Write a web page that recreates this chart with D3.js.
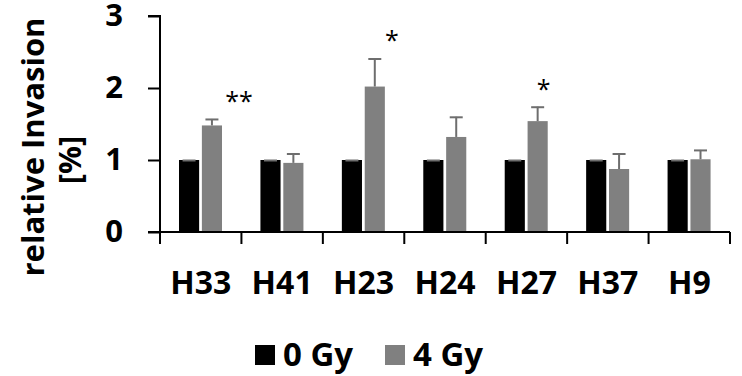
<!DOCTYPE html>
<html>
<head>
<meta charset="utf-8">
<script src="https://cdn.jsdelivr.net/npm/d3@7"></script>
<style>
  body { margin: 0; background: #fff; }
  text { font-family: "Open Sans", sans-serif; }
</style>
</head>
<body>
<svg id="chart" width="742" height="376"></svg>
<script>
// Data
const categories = ["H33", "H41", "H23", "H24", "H27", "H37", "H9"];
const seriesNames = ["0 Gy", "4 Gy"];
const values0Gy = [1, 1, 1, 1, 1, 1, 1];
const values4Gy = [1.48, 0.96, 2.02, 1.32, 1.54, 0.875, 1.01];
const errors0Gy = [0, 0, 0, 0, 0, 0, 0];
const errors4Gy = [0.09, 0.13, 0.39, 0.28, 0.2, 0.215, 0.13];
const sigLabels = [
  { cat: "H33", text: "**", dx: 27 },
  { cat: "H23", text: "*", dx: 17 },
  { cat: "H27", text: "*", dx: 6 }
];
const yTicks = [0, 1, 2, 3];

const svg = d3.select("#chart");
const colors = { "0 Gy": "#000000", "4 Gy": "#808080" };

// Settings
const margin = { top: 16, bottom: 144, left: 160, right: 12 };
const width = +svg.attr("width");
const height = +svg.attr("height");

const xScale = d3.scaleBand()
  .domain(categories)
  .range([margin.left, width - margin.right])
  .paddingInner(0)
  .paddingOuter(0);

const xSub = d3.scaleBand()
  .domain(seriesNames)
  .range([19, 62])
  .paddingInner(0.12);

const yScale = d3.scaleLinear()
  .domain([0, 3])
  .range([height - margin.bottom, margin.top]);

const rows = categories.map((c, i) => ({
  cat: c,
  vals: [
    { s: "0 Gy", v: values0Gy[i], e: errors0Gy[i] },
    { s: "4 Gy", v: values4Gy[i], e: errors4Gy[i] }
  ]
}));

// Bars
const groups = svg.append("g").selectAll("g")
  .data(rows)
  .join("g")
  .attr("transform", d => `translate(${xScale(d.cat)},0)`);

groups.selectAll("rect")
  .data(d => d.vals)
  .join("rect")
  .attr("x", d => xSub(d.s))
  .attr("width", xSub.bandwidth())
  .attr("y", d => yScale(d.v))
  .attr("height", d => yScale(0) - yScale(d.v))
  .attr("fill", d => colors[d.s]);

// Error bars (upper only)
const capHalf = 6.5;
const cx = d => xSub(d.s) + xSub.bandwidth() / 2;
const err = groups.selectAll("g.err")
  .data(d => d.vals)
  .join("g")
  .attr("class", "err")
  .attr("stroke", "#6e6e6e")
  .attr("stroke-width", 2);
err.append("line")
  .attr("x1", cx).attr("x2", cx)
  .attr("y1", d => yScale(d.v))
  .attr("y2", d => yScale(d.v + d.e));
err.append("line")
  .attr("x1", d => cx(d) - capHalf)
  .attr("x2", d => cx(d) + capHalf)
  .attr("y1", d => yScale(d.v + d.e) + 0.5)
  .attr("y2", d => yScale(d.v + d.e) + 0.5);

// Significance marks
svg.append("g").selectAll("text")
  .data(sigLabels)
  .join("text")
  .attr("x", d => xScale(d.cat) + xSub("4 Gy") + xSub.bandwidth() / 2 + d.dx)
  .attr("y", d => {
    const i = categories.indexOf(d.cat);
    return yScale(values4Gy[i] + errors4Gy[i]) - 9;
  })
  .attr("text-anchor", "middle")
  .attr("font-size", 25)
  .attr("fill", "#000")
  .text(d => d.text);

// y-Axis
const yAxis = d3.axisLeft(yScale).tickValues(yTicks).tickSize(12).tickPadding(25).tickFormat(d3.format("d"));
const yAxisG = svg.append("g")
  .attr("transform", `translate(${margin.left},0)`)
  .call(yAxis);
yAxisG.select(".domain").attr("d", `M-12,${yScale(3)}H0V${yScale(0) + 12}`);
yAxisG.selectAll("line, path").attr("stroke", "#000").attr("stroke-width", 2);
yAxisG.selectAll("text")
  .attr("font-size", 31)
  .attr("font-weight", "bold")
  .attr("font-family", "Open Sans, sans-serif")
  .attr("fill", "#000");

// x-Axis
const xAxis = d3.axisBottom(xScale).tickSize(0).tickPadding(39);
const xAxisG = svg.append("g")
  .attr("transform", `translate(0,${yScale(0)})`)
  .call(xAxis);
xAxisG.select(".domain")
  .attr("d", `M${margin.left - 12},0H${width - margin.right}`)
  .attr("stroke", "#000")
  .attr("stroke-width", 2);
xAxisG.selectAll("text")
  .attr("font-size", 32)
  .attr("font-weight", "bold")
  .attr("font-family", "Open Sans, sans-serif")
  .attr("fill", "#000")
  .attr("dy", "0.71em");
// category separators
const edges = categories.map(c => xScale(c)).concat([xScale.range()[1]]);
xAxisG.append("g").selectAll("line")
  .data(edges)
  .join("line")
  .attr("x1", d => d).attr("x2", d => d)
  .attr("y1", 0).attr("y2", 12)
  .attr("stroke", "#000")
  .attr("stroke-width", 2);

// y-Axis title
const titleG = svg.append("g").attr("font-weight", "bold").attr("fill", "#000").attr("font-size", 31);
titleG.append("text")
  .attr("transform", `translate(44,147) rotate(-90)`)
  .attr("text-anchor", "middle")
  .text("relative Invasion");
titleG.append("text")
  .attr("transform", `translate(81,160) rotate(-90)`)
  .attr("text-anchor", "middle")
  .text("[%]");

// Legend
const legendX = [255, 385];
const legend = svg.append("g").selectAll("g")
  .data(seriesNames)
  .join("g")
  .attr("transform", (d, i) => `translate(${legendX[i]},345)`);
legend.append("rect")
  .attr("width", 20).attr("height", 20)
  .attr("fill", d => colors[d]);
legend.append("text")
  .attr("x", 28).attr("y", 21)
  .attr("font-size", 33)
  .attr("font-weight", "bold")
  .attr("fill", "#000")
  .text(d => d);
</script>
</body>
</html>
